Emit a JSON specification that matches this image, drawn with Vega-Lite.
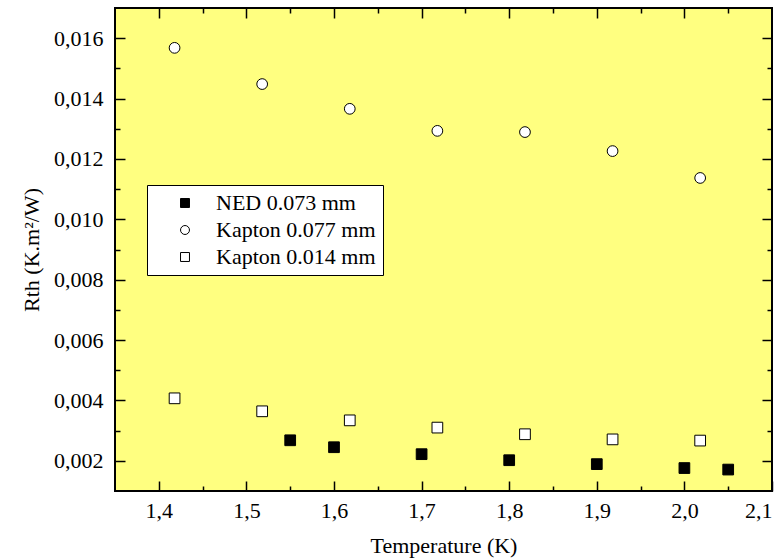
{
  "$schema": "https://vega.github.io/schema/vega-lite/v6.json",
  "autosize": "none",
  "width": 657,
  "height": 483,
  "padding": {"left": 115, "top": 8, "right": 11, "bottom": 69},
  "background": "white",
  "config": {
    "view": {"fill": "#ffff80", "stroke": "black", "strokeWidth": 2},
    "font": "Liberation Serif",
    "axis": {
      "labelFont": "Liberation Serif",
      "titleFont": "Liberation Serif",
      "labelColor": "black",
      "titleColor": "black",
      "tickColor": "black",
      "domain": false,
      "tickWidth": 1.5,
      "grid": false,
      "labelFontSize": 22,
      "titleFontSize": 22,
      "titleFontWeight": "normal"
    }
  },
  "data": {
    "values": [
      {"series": "NED 0.073 mm", "T": 1.55, "R": 0.00268},
      {"series": "NED 0.073 mm", "T": 1.6, "R": 0.00245},
      {"series": "NED 0.073 mm", "T": 1.7, "R": 0.00222},
      {"series": "NED 0.073 mm", "T": 1.8, "R": 0.00202},
      {"series": "NED 0.073 mm", "T": 1.9, "R": 0.00189},
      {"series": "NED 0.073 mm", "T": 2.0, "R": 0.00176},
      {"series": "NED 0.073 mm", "T": 2.05, "R": 0.00171},
      {"series": "Kapton 0.077 mm", "T": 1.418, "R": 0.01568},
      {"series": "Kapton 0.077 mm", "T": 1.518, "R": 0.01448},
      {"series": "Kapton 0.077 mm", "T": 1.618, "R": 0.01366},
      {"series": "Kapton 0.077 mm", "T": 1.718, "R": 0.01293},
      {"series": "Kapton 0.077 mm", "T": 1.818, "R": 0.01289},
      {"series": "Kapton 0.077 mm", "T": 1.918, "R": 0.01226},
      {"series": "Kapton 0.077 mm", "T": 2.018, "R": 0.01137},
      {"series": "Kapton 0.014 mm", "T": 1.418, "R": 0.00407},
      {"series": "Kapton 0.014 mm", "T": 1.518, "R": 0.00364},
      {"series": "Kapton 0.014 mm", "T": 1.618, "R": 0.00334},
      {"series": "Kapton 0.014 mm", "T": 1.718, "R": 0.0031},
      {"series": "Kapton 0.014 mm", "T": 1.818, "R": 0.00288},
      {"series": "Kapton 0.014 mm", "T": 1.918, "R": 0.00271},
      {"series": "Kapton 0.014 mm", "T": 2.018, "R": 0.00267}
    ]
  },
  "resolve": {"axis": {"x": "independent", "y": "independent"}},
  "layer": [
    {
      "mark": {"type": "point", "filled": true, "size": 115, "strokeWidth": 1, "opacity": 1},
      "encoding": {
        "x": {
          "field": "T", "type": "quantitative",
          "scale": {"domain": [1.35, 2.1], "nice": false, "zero": false},
          "axis": {
            "orient": "bottom",
            "offset": -10,
            "values": [1.4, 1.5, 1.6, 1.7, 1.8, 1.9, 2.0, 2.1],
            "labelExpr": "replace(format(datum.value, '.1f'), '.', ',')",
            "tickSize": 10,
            "labelPadding": 9,
            "title": "Temperature (K)",
            "titlePadding": 14
          }
        },
        "y": {
          "field": "R", "type": "quantitative",
          "scale": {"domain": [0.001, 0.017], "nice": false, "zero": false},
          "axis": {
            "orient": "left",
            "offset": -10,
            "values": [0.002, 0.004, 0.006, 0.008, 0.01, 0.012, 0.014, 0.016],
            "labelExpr": "replace(format(datum.value, '.3f'), '.', ',')",
            "tickSize": 10,
            "labelPadding": 12,
            "title": "Rth (K.m²/W)",
            "titlePadding": 10
          }
        },
        "shape": {
          "field": "series", "type": "nominal",
          "scale": {"domain": ["NED 0.073 mm", "Kapton 0.077 mm", "Kapton 0.014 mm"], "range": ["square", "circle", "square"]},
          "legend": {
            "title": null,
            "orient": "none",
            "legendX": 32,
            "legendY": 177,
            "fillColor": "white",
            "strokeColor": "black",
            "padding": 7,
            "labelFont": "Liberation Serif",
            "labelFontSize": 22,
            "labelColor": "black",
            "symbolSize": 80,
            "symbolStrokeColor": "black",
            "symbolStrokeWidth": 1,
            "symbolOffset": 20,
            "labelOffset": 20,
            "rowPadding": 5,
            "encode": {
              "legend": {"update": {"strokeWidth": {"value": 1.5}}},
              "symbols": {"update": {"stroke": {"value": "black"}, "strokeWidth": {"value": 1}, "strokeOpacity": {"value": 1}, "opacity": {"value": 1}}}
            }
          }
        },
        "fill": {
          "field": "series", "type": "nominal",
          "scale": {"domain": ["NED 0.073 mm", "Kapton 0.077 mm", "Kapton 0.014 mm"], "range": ["black", "white", "white"]},
          "legend": null
        },
        "stroke": {
          "field": "series", "type": "nominal",
          "scale": {"domain": ["NED 0.073 mm", "Kapton 0.077 mm", "Kapton 0.014 mm"], "range": ["black", "black", "black"]},
          "legend": null
        }
      }
    },
    {
      "mark": {"type": "point", "opacity": 0},
      "encoding": {
        "x": {"field": "T", "type": "quantitative", "axis": {"orient": "bottom", "offset": -5, "values": [1.45, 1.55, 1.65, 1.75, 1.85, 1.95, 2.05], "labels": false, "tickSize": 5, "title": null}},
        "y": {"field": "R", "type": "quantitative", "axis": {"orient": "left", "offset": -5, "values": [0.003, 0.005, 0.007, 0.009, 0.011, 0.013, 0.015], "labels": false, "tickSize": 5, "title": null}}
      }
    },
    {
      "mark": {"type": "point", "opacity": 0},
      "encoding": {
        "x": {"field": "T", "type": "quantitative", "axis": {"orient": "top", "offset": -10, "values": [1.4, 1.5, 1.6, 1.7, 1.8, 1.9, 2.0], "labels": false, "tickSize": 10, "title": null}},
        "y": {"field": "R", "type": "quantitative", "axis": {"orient": "right", "offset": -10, "values": [0.002, 0.004, 0.006, 0.008, 0.01, 0.012, 0.014, 0.016], "labels": false, "tickSize": 10, "title": null}}
      }
    },
    {
      "mark": {"type": "point", "opacity": 0},
      "encoding": {
        "x": {"field": "T", "type": "quantitative", "axis": {"orient": "top", "offset": -5, "values": [1.45, 1.55, 1.65, 1.75, 1.85, 1.95, 2.05], "labels": false, "tickSize": 5, "title": null}},
        "y": {"field": "R", "type": "quantitative", "axis": {"orient": "right", "offset": -5, "values": [0.003, 0.005, 0.007, 0.009, 0.011, 0.013, 0.015], "labels": false, "tickSize": 5, "title": null}}
      }
    }
  ]
}
